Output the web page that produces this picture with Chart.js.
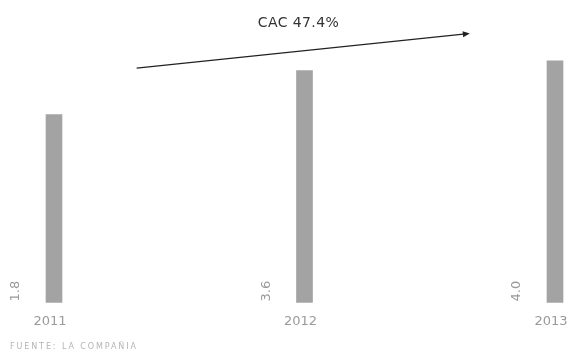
<!DOCTYPE html>
<html>
<head>
<meta charset="utf-8">
<script src="https://cdn.jsdelivr.net/npm/chart.js@4/dist/chart.umd.min.js"></script>
<style>
  html, body { margin: 0; padding: 0; background: #fff; }
  #wrap { width: 569px; height: 354px; position: relative; }
</style>
</head>
<body>
<div id="wrap"><canvas id="myChart"></canvas></div>
<script>
const years = ['2011', '2012', '2013'];
const values = [1.8, 3.6, 4.0];
const valueLabels = ['1.8', '3.6', '4.0'];
const growthLabel = 'CAC 47.4%';
const sourceNote = 'FUENTE: LA COMPAÑIA';

// bars grow from the bottom of a hidden value axis
const axisMin = -5.9;
const axisMax = 4.4;

const extras = {
  id: 'extras',
  afterDatasetsDraw(chart) {
    const ctx = chart.ctx;
    const meta = chart.getDatasetMeta(0);
    const x = chart.scales.x;
    const y = chart.scales.y;

    // rotated value next to each bar
    ctx.save();
    ctx.fillStyle = '#9a9a9a';
    ctx.font = '13px "DejaVu Sans", sans-serif';
    ctx.textAlign = 'left';
    ctx.textBaseline = 'middle';
    meta.data.forEach((bar, i) => {
      ctx.save();
      ctx.translate(bar.x - 38, chart.chartArea.bottom - 1);
      ctx.rotate(-Math.PI / 2);
      ctx.fillText(valueLabels[i], 0, 0);
      ctx.restore();
    });
    ctx.restore();

    // growth arrow
    const x0 = x.getPixelForValue(0.33), y0 = y.getPixelForValue(3.7);
    const x1 = x.getPixelForValue(1.66), y1 = y.getPixelForValue(5.12);
    ctx.save();
    ctx.strokeStyle = '#222';
    ctx.fillStyle = '#222';
    ctx.lineWidth = 1.2;
    ctx.beginPath();
    ctx.moveTo(x0, y0);
    ctx.lineTo(x1 - 4, y1 + 0.4);
    ctx.stroke();
    const ang = Math.atan2(y1 - y0, x1 - x0);
    ctx.beginPath();
    ctx.moveTo(x1, y1);
    ctx.lineTo(x1 - 7 * Math.cos(ang) + 3 * Math.sin(ang), y1 - 7 * Math.sin(ang) - 3 * Math.cos(ang));
    ctx.lineTo(x1 - 7 * Math.cos(ang) - 3 * Math.sin(ang), y1 - 7 * Math.sin(ang) + 3 * Math.cos(ang));
    ctx.closePath();
    ctx.fill();

    ctx.fillStyle = '#333';
    ctx.font = '14px "DejaVu Sans", sans-serif';
    ctx.letterSpacing = '0.4px';
    ctx.textAlign = 'center';
    ctx.textBaseline = 'middle';
    ctx.fillText(growthLabel, x.getPixelForValue(1) - 6, 23);
    ctx.restore();

    // source note
    ctx.save();
    ctx.fillStyle = '#b5b5b5';
    ctx.font = '8px "DejaVu Sans", sans-serif';
    ctx.letterSpacing = '1.9px';
    ctx.textAlign = 'left';
    ctx.textBaseline = 'alphabetic';
    ctx.fillText(sourceNote, 10, 349);
    ctx.restore();
  }
};

new Chart(document.getElementById('myChart'), {
  type: 'bar',
  data: {
    labels: years,
    datasets: [{
      data: values,
      base: axisMin,
      backgroundColor: '#a3a3a3',
      barThickness: 16,
      clip: false
    }]
  },
  options: {
    responsive: true,
    maintainAspectRatio: false,
    animation: false,
    layout: {
      padding: { top: 51, left: 54, right: 14, bottom: 14 }
    },
    plugins: {
      legend: { display: false },
      tooltip: { enabled: false }
    },
    scales: {
      x: {
        offset: false,
        grid: { display: false, drawTicks: false },
        border: { display: false },
        afterFit(scale) {
          // let the end labels run to the canvas edge
          scale.paddingLeft = 0;
          scale.paddingRight = 0;
        },
        ticks: {
          color: '#9a9a9a',
          padding: 11,
          labelOffset: -4,
          maxRotation: 0,
          autoSkip: false,
          font: { family: '"DejaVu Sans", sans-serif', size: 13 }
        }
      },
      y: {
        display: false,
        min: axisMin,
        max: axisMax
      }
    }
  },
  plugins: [extras]
});
</script>
</body>
</html>
